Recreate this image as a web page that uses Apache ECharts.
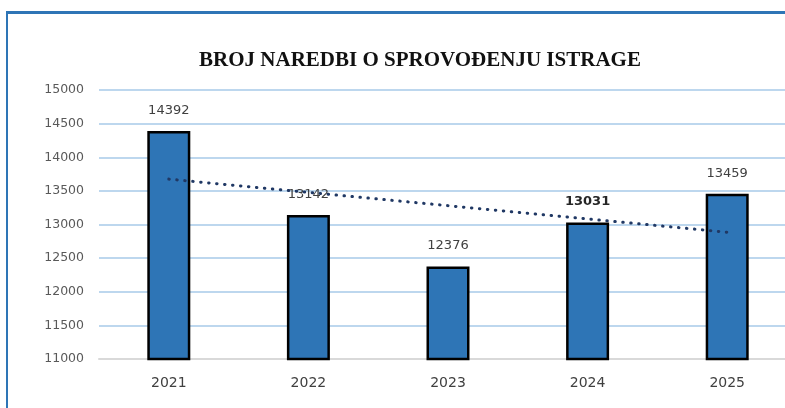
<!DOCTYPE html>
<html>
<head>
<meta charset="utf-8">
<script src="https://cdn.jsdelivr.net/npm/echarts@6/dist/echarts.min.js"></script>
<style>
    html, body { margin: 0; padding: 0; background: #fff; }
    #wrap { position: relative; width: 785px; height: 408px; overflow: hidden; }
    /* le graphique déborde à droite, comme l'original rogné */
    #chart { position: absolute; left: 0; top: 0; width: 820px; height: 408px; }
    /* cadre bleu (haut + gauche) */
    #frame {
        position: absolute; left: 6px; top: 11px; width: 800px; height: 420px;
        border-left: 2px solid #2E75B6; border-top: 3px solid #2E75B6;
        pointer-events: none;
    }
</style>
</head>
<body>
<div id="wrap">
    <div id="chart"></div>
    <div id="frame"></div>
</div>
<script>
// === Données ===
const years = ["2021", "2022", "2023", "2024", "2025"];
const naredbe = [14392, 13142, 12376, 13031, 13459];
// ligne de tendance (début 2021, fin 2025)
const trend = [13675, "-", "-", "-", 12885];
const yTicks = { min: 11000, max: 15000, step: 500 };

const chart = echarts.init(document.getElementById("chart"));

const option = {
    animation: false,
    backgroundColor: "transparent",
    title: {
        text: "BROJ NAREDBI O SPROVOĐENJU ISTRAGE",
        left: 415,
        textAlign: "center",
        top: 45,
        textStyle: {
            fontFamily: "Liberation Serif",
            fontWeight: "bold",
            fontSize: 21,
            color: "#111"
        }
    },
    grid: { left: 99, top: 90, height: 269, width: 698 },
    xAxis: {
        type: "category",
        data: years,
        axisLine: { lineStyle: { color: "#D9D9D9", width: 2 } },
        axisTick: { show: false },
        axisLabel: { color: "#404040", fontFamily: "DejaVu Sans", fontSize: 14, margin: 17 }
    },
    yAxis: {
        type: "value",
        min: yTicks.min,
        max: yTicks.max,
        interval: yTicks.step,
        axisLine: { show: false },
        axisTick: { show: false },
        splitLine: { lineStyle: { color: "#BDD7EE", width: 2 } },
        axisLabel: {
            color: "#595959",
            fontFamily: "DejaVu Sans",
            fontSize: 12.5,
            margin: 15,
            formatter: v => String(v)
        }
    },
    series: [
        {
            name: "Naredbe",
            type: "bar",
            barWidth: 43,
            itemStyle: { color: "#2E75B6", borderColor: "#000", borderWidth: 2.5 },
            label: {
                show: true,
                position: "top",
                distance: 14,
                color: "#404040",
                fontFamily: "DejaVu Sans",
                fontSize: 13
            },
            data: naredbe.map((v, i) =>
                years[i] === "2024"
                    ? { value: v, label: { fontWeight: "bold", color: "#262626" } }
                    : v
            )
        },
        {
            name: "Trend",
            type: "line",
            connectNulls: true,
            symbol: "none",
            z: 5,
            lineStyle: { color: "#203864", width: 3, type: [0.5, 7.5], cap: "round" },
            data: trend
        }
    ]
};

chart.setOption(option);
</script>
</body>
</html>
